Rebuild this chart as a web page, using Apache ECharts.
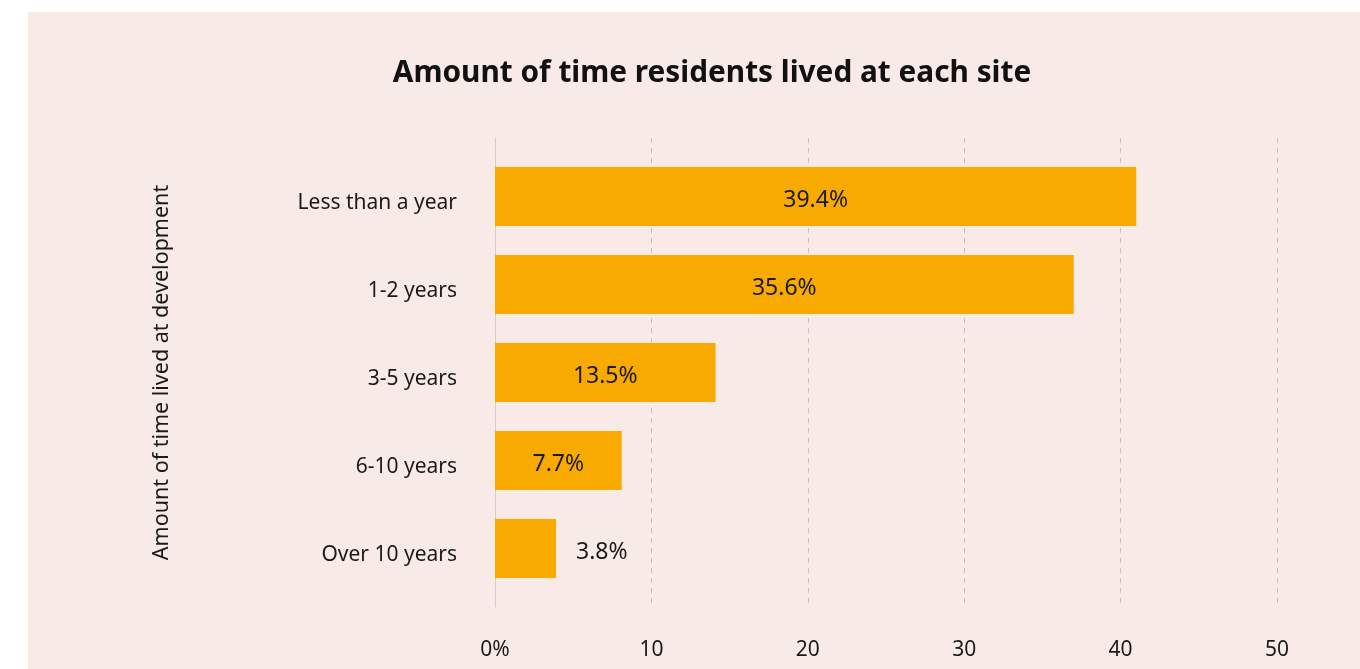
<!DOCTYPE html>
<html>
<head>
<meta charset="utf-8">
<script src="https://cdn.jsdelivr.net/npm/echarts@6/dist/echarts.min.js"></script>
<style>
html,body{margin:0;padding:0;background:#ffffff;width:1360px;height:669px;overflow:hidden;}
#c{position:absolute;left:28px;top:12px;width:1332px;height:657px;}
</style>
</head>
<body>
<div id="c"></div>
<script>
const categories = ["Less than a year", "1-2 years", "3-5 years", "6-10 years", "Over 10 years"];
const barValues = [41.0, 37.0, 14.1, 8.1, 3.9];
const barLabels = ["39.4%", "35.6%", "13.5%", "7.7%", "3.8%"];
const xTicks = [0, 10, 20, 30, 40, 50];
const titleText = "Amount of time residents lived at each site";
const yAxisTitle = "Amount of time lived at development";

const FONT = "Noto Sans";
const chart = echarts.init(document.getElementById('c'), null, {renderer: 'canvas'});

const seriesData = barValues.map((v, i) => ({
  value: v,
  label: i === barValues.length - 1
    ? {position: 'right', distance: 20}
    : {position: 'inside'}
}));

chart.setOption({
  backgroundColor: '#F8EAE7',
  animation: false,
  textStyle: {fontFamily: FONT},
  title: {
    text: titleText,
    left: 679,
    top: 42,
    textAlign: 'center',
    textStyle: {fontFamily: FONT, fontSize: 29.8, fontWeight: 'bold', color: '#111111'}
  },
  grid: [
    {left: 467, right: 83, top: 126, bottom: 62},
    {left: 467, right: 83, top: 140.5, bottom: 76.5}
  ],
  xAxis: [
    {
      gridIndex: 0, type: 'value', min: xTicks[0], max: xTicks[xTicks.length - 1], interval: 10,
      axisLine: {show: false}, axisTick: {show: false},
      axisLabel: {
        margin: 33, fontSize: 21, color: '#1a1a1a', fontFamily: FONT,
        formatter: v => v === 0 ? v + '%' : String(v)
      },
      splitLine: {show: true, lineStyle: {color: '#cdbfbd', type: [5, 5], width: 1}}
    },
    {
      gridIndex: 1, type: 'value', min: xTicks[0], max: xTicks[xTicks.length - 1], interval: 10,
      show: false
    }
  ],
  yAxis: [
    {
      gridIndex: 0, type: 'value', min: 0, max: 1,
      axisLine: {show: true, lineStyle: {color: '#d6cac8', width: 1}},
      axisTick: {show: false}, axisLabel: {show: false}, splitLine: {show: false}
    },
    {
      gridIndex: 1, type: 'category', data: categories, inverse: true,
      axisLine: {show: false}, axisTick: {show: false}, splitLine: {show: false},
      axisLabel: {
        margin: 38, fontSize: 21, color: '#1a1a1a', fontFamily: FONT,
        formatter: v => '{a|' + v + '}',
        rich: {a: {fontSize: 21, color: '#1a1a1a', fontFamily: FONT, padding: [13, 0, 0, 0]}}
      },
      name: yAxisTitle, nameLocation: 'middle', nameGap: 322, nameRotate: 90,
      nameTextStyle: {fontSize: 21.5, color: '#1a1a1a', fontFamily: FONT}
    }
  ],
  series: [{
    type: 'bar',
    xAxisIndex: 1, yAxisIndex: 1,
    data: seriesData,
    barWidth: 59,
    itemStyle: {color: '#F9AA00'},
    label: {
      show: true, fontSize: 23, color: '#1a1a1a', fontFamily: FONT,
      offset: [0, 4],
      formatter: p => barLabels[p.dataIndex]
    }
  }]
});
</script>
</body>
</html>
